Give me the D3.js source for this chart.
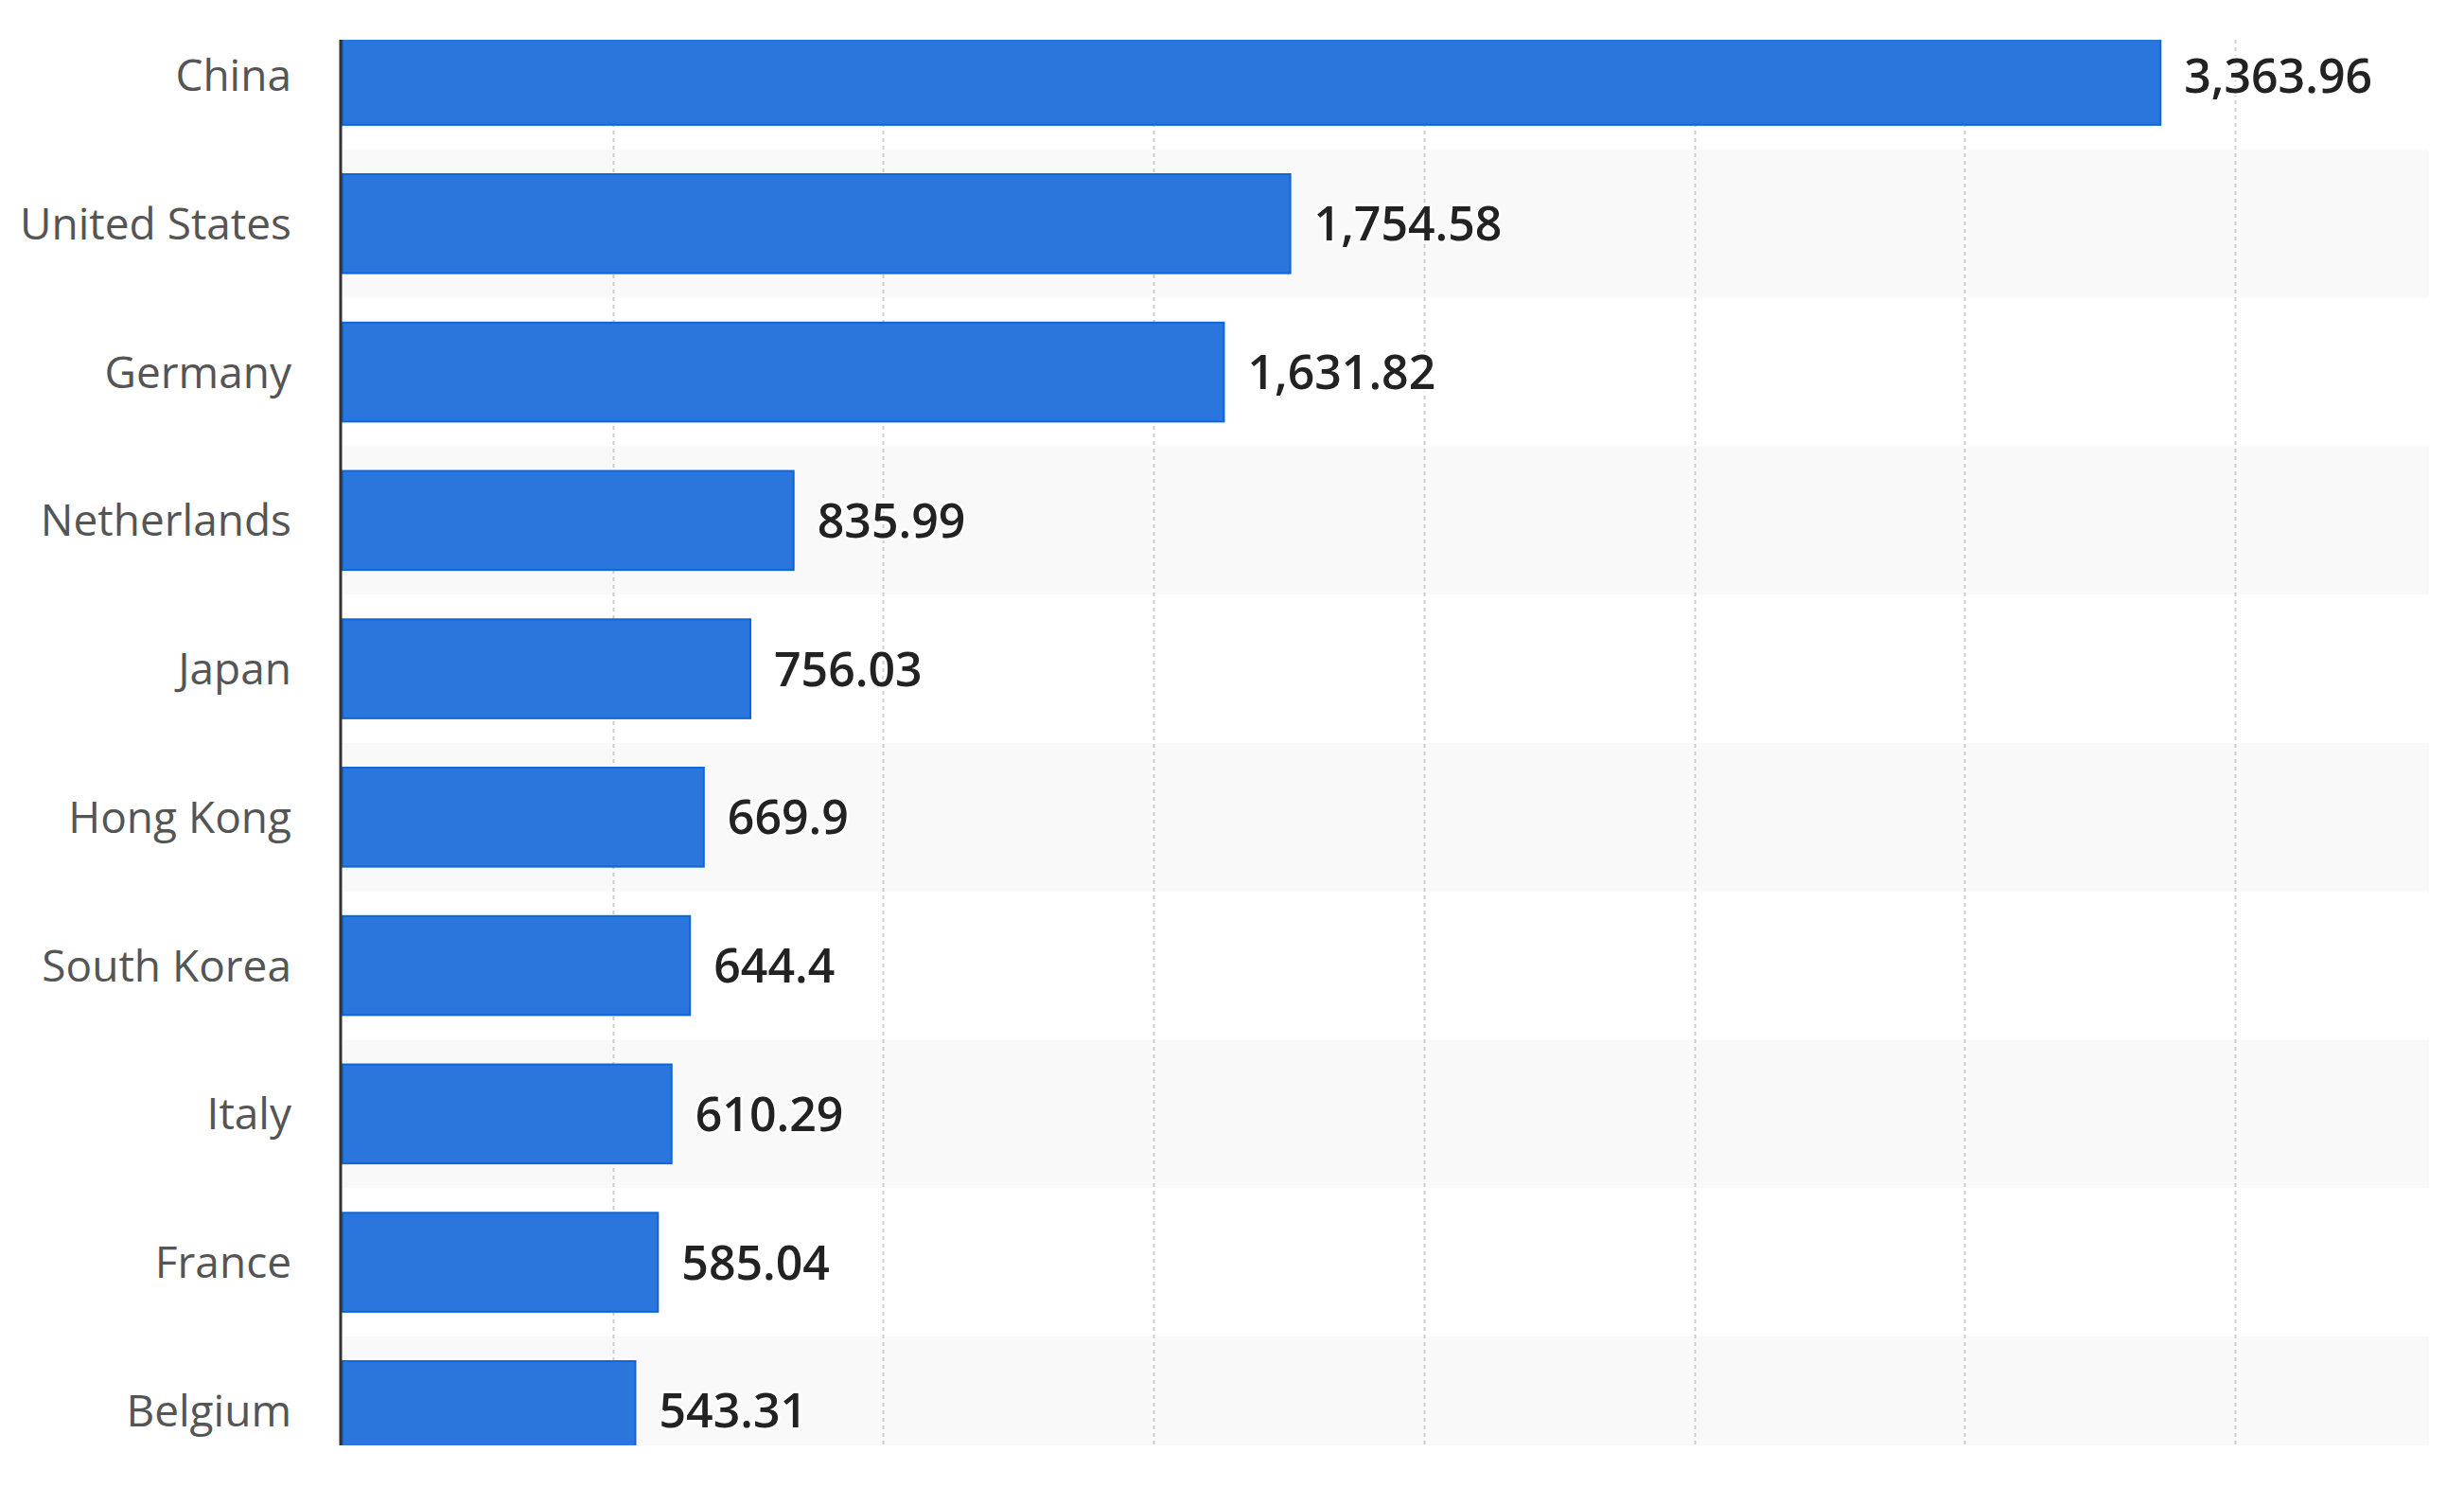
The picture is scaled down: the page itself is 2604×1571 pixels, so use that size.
<!DOCTYPE html>
<html>
<head>
<meta charset="utf-8">
<script src="https://cdn.jsdelivr.net/npm/d3@7"></script>
<style>
  html, body { margin: 0; padding: 0; background: #ffffff; }
  svg { display: block; }
</style>
</head>
<body>
<svg id="chart" width="2604" height="1571"></svg>
<script>
// ---- data ----
const categories = ["China", "United States", "Germany", "Netherlands", "Japan",
                    "Hong Kong", "South Korea", "Italy", "France", "Belgium"];
const values = [3363.96, 1754.58, 1631.82, 835.99, 756.03, 669.9, 644.4, 610.29, 585.04, 543.31];
const valueLabels = ["3,363.96", "1,754.58", "1,631.82", "835.99", "756.03",
                     "669.9", "644.4", "610.29", "585.04", "543.31"];
const gridTicks = [500, 1000, 1500, 2000, 2500, 3000, 3500];

// ---- layout ----
const clipTop = 42, clipBottom = 1527, plotRight = 2567;
const svg = d3.select("#chart");

const x = d3.scaleLinear().domain([0, 3500]).range([362, 2362]);
const y = d3.scaleBand().domain(categories).range([1.2, 1568.7])
  .paddingInner(0.32).paddingOuter(0.16);

const defs = svg.append("defs");
defs.append("clipPath").attr("id", "plotClip")
  .append("rect").attr("x", 0).attr("y", clipTop)
  .attr("width", plotRight).attr("height", clipBottom - clipTop);

const plot = svg.append("g").attr("clip-path", "url(#plotClip)");

// alternating stripes
const step = y.step();
plot.append("g").selectAll("rect").data(categories.filter((d, i) => i % 2 === 1))
  .join("rect")
  .attr("x", x(0))
  .attr("y", d => y(d) - step * y.paddingInner() / 2)
  .attr("width", plotRight - x(0))
  .attr("height", step)
  .attr("fill", "#f9f9f9");

// gridlines
plot.append("g").selectAll("line").data(gridTicks).join("line")
  .attr("x1", d => Math.round(x(d)) + 0.5).attr("x2", d => Math.round(x(d)) + 0.5)
  .attr("y1", clipTop).attr("y2", clipBottom)
  .attr("stroke", "#cfcfcf").attr("stroke-width", 2)
  .attr("stroke-dasharray", "4,4");

// bars
plot.append("g").selectAll("rect").data(values).join("rect")
  .attr("x", x(0))
  .attr("y", (d, i) => y(categories[i]) + 1)
  .attr("width", d => x(d) - x(0) - 1)
  .attr("height", y.bandwidth() - 2)
  .attr("fill", "#2a76dc")
  .attr("stroke", "#0d66da")
  .attr("stroke-width", 2);

// value labels
plot.append("g").selectAll("text").data(values).join("text")
  .attr("x", d => x(d) + 24)
  .attr("y", (d, i) => y(categories[i]) + y.bandwidth() / 2)
  .attr("dy", "0.36em")
  .attr("font-family", "'Open Sans', sans-serif")
  .attr("font-size", 50)
  .attr("font-weight", 600)
  .attr("fill", "#222222")
  .attr("stroke", "#ffffff")
  .attr("stroke-width", 5)
  .attr("stroke-linejoin", "round")
  .attr("paint-order", "stroke")
  .text((d, i) => valueLabels[i]);

// category labels
svg.append("g").selectAll("text").data(categories).join("text")
  .attr("x", 308)
  .attr("y", d => y(d) + y.bandwidth() / 2)
  .attr("dy", "0.36em")
  .attr("text-anchor", "end")
  .attr("font-family", "'Open Sans', sans-serif")
  .attr("font-size", 46)
  .attr("fill", "#555555")
  .text(d => d);

// axis line
svg.append("line")
  .attr("x1", 360).attr("x2", 360)
  .attr("y1", clipTop).attr("y2", clipBottom)
  .attr("stroke", "#333333").attr("stroke-width", 3);
</script>
</body>
</html>
